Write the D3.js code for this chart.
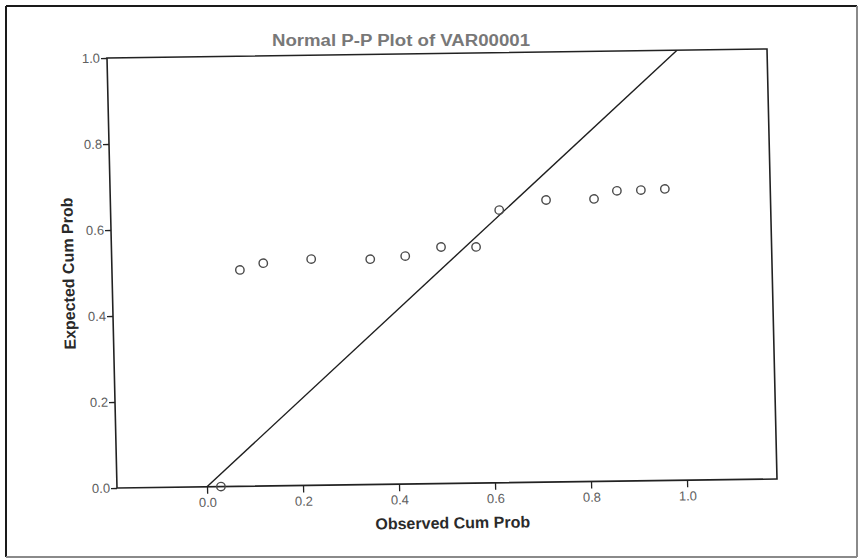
<!DOCTYPE html>
<html>
<head>
<meta charset="utf-8">
<script src="https://cdn.jsdelivr.net/npm/d3@7"></script>
<style>
  body { margin: 0; background: #fff; }
  text { font-family: "Liberation Sans", Arial, sans-serif; }
</style>
</head>
<body>
<svg id="chart" width="859" height="559"></svg>
<script>
const title = "Normal P-P Plot of VAR00001";
const xLabel = "Observed Cum Prob";
const yLabel = "Expected Cum Prob";

const observed = [0.029, 0.079, 0.128, 0.228, 0.351, 0.424, 0.499, 0.572, 0.622, 0.72, 0.82, 0.868, 0.918, 0.968];
const expected = [0.0, 0.503, 0.518, 0.526, 0.524, 0.53, 0.55, 0.549, 0.634, 0.656, 0.657, 0.675, 0.676, 0.678];

const xTicks = [0.0, 0.2, 0.4, 0.6, 0.8, 1.0];
const yTicks = [0.0, 0.2, 0.4, 0.6, 0.8, 1.0];

const width = 660, height = 430;

const svg = d3.select("#chart");

// scanned page border
svg.append("line").attr("x1", 6).attr("y1", 6).attr("x2", 857).attr("y2", 6)
  .attr("stroke", "#1a1a1a").attr("stroke-width", 2);
svg.append("line").attr("x1", 6).attr("y1", 6).attr("x2", 6).attr("y2", 557)
  .attr("stroke", "#1a1a1a").attr("stroke-width", 2);
svg.append("line").attr("x1", 6).attr("y1", 557).attr("x2", 857).attr("y2", 557)
  .attr("stroke", "#8a8a8a").attr("stroke-width", 2);
svg.append("line").attr("x1", 857).attr("y1", 6).attr("x2", 857).attr("y2", 557)
  .attr("stroke", "#8a8a8a").attr("stroke-width", 2);

svg.append("text")
  .attr("x", 401).attr("y", 46)
  .attr("text-anchor", "middle")
  .attr("font-size", 16).attr("font-weight", "bold")
  .attr("fill", "#787878")
  .attr("textLength", 258).attr("lengthAdjust", "spacingAndGlyphs")
  .text(title);

// the scan is slightly skewed, so the plot sits in a sheared group
const g = svg.append("g")
  .attr("transform", "matrix(1,-0.01364,0.02326,1,107,58)");

const x = d3.scaleLinear().domain([-0.1875, 1.1875]).range([0, width]);
const y = d3.scaleLinear().domain([0, 1]).range([height, 0]);

g.append("defs").append("clipPath").attr("id", "clip")
  .append("rect").attr("width", width).attr("height", height);

g.append("rect")
  .attr("width", width).attr("height", height)
  .attr("fill", "#fff")
  .attr("stroke", "#222").attr("stroke-width", 1.6);

const xAxis = g.append("g")
  .attr("transform", `translate(0,${height})`)
  .call(d3.axisBottom(x).tickValues(xTicks).tickFormat(d3.format(".1f")).tickSize(7).tickPadding(4));

const yAxis = g.append("g")
  .call(d3.axisLeft(y).tickValues(yTicks).tickFormat(d3.format(".1f")).tickSize(6).tickPadding(1));

[xAxis, yAxis].forEach(a => {
  a.select(".domain").remove();
  a.selectAll("line").attr("stroke", "#222").attr("stroke-width", 1.3);
  a.selectAll("text")
    .attr("font-family", "'Liberation Sans', Arial, sans-serif")
    .attr("font-size", 13).attr("fill", "#606060");
});

g.append("line")
  .attr("clip-path", "url(#clip)")
  .attr("x1", x(0)).attr("y1", y(0))
  .attr("x2", x(1)).attr("y2", y(1))
  .attr("stroke", "#1e1e1e").attr("stroke-width", 1.4);

g.selectAll("circle.pt")
  .data(observed.map((d, i) => ({ o: d, e: expected[i] })))
  .join("circle")
  .attr("class", "pt")
  .attr("cx", d => x(d.o))
  .attr("cy", d => y(d.e))
  .attr("r", 4.2)
  .attr("fill", "none")
  .attr("stroke", "#4a4a4a")
  .attr("stroke-width", 1.4);

g.append("text")
  .attr("x", x(0.51)).attr("y", height + 45)
  .attr("text-anchor", "middle")
  .attr("font-size", 16).attr("font-weight", "bold")
  .attr("fill", "#2a2a2a")
  .text(xLabel);

g.append("text")
  .attr("transform", `translate(-38,${y(0.5)}) rotate(-90)`)
  .attr("text-anchor", "middle")
  .attr("font-size", 16).attr("font-weight", "bold")
  .attr("fill", "#2a2a2a")
  .text(yLabel);
</script>
</body>
</html>
